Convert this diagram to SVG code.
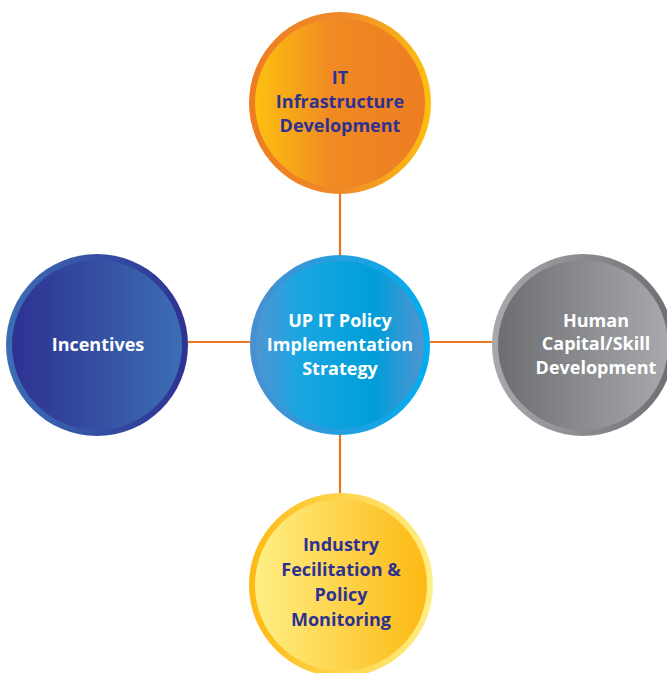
<svg xmlns="http://www.w3.org/2000/svg" width="667" height="673" viewBox="0 0 667 673">
<defs>
<linearGradient id="oF" x1="0" x2="1" y1="0" y2="0"><stop offset="0" stop-color="#FDC010"/><stop offset="0.45" stop-color="#F08A22"/><stop offset="1" stop-color="#EE7D22"/></linearGradient>
<linearGradient id="oR" x1="0" x2="1" y1="0" y2="0"><stop offset="0" stop-color="#EE7D22"/><stop offset="0.5" stop-color="#F0892A"/><stop offset="1" stop-color="#FDC010"/></linearGradient>
<linearGradient id="bF" x1="0" x2="1" y1="0" y2="0"><stop offset="0" stop-color="#4F95D2"/><stop offset="0.25" stop-color="#1BA6E2"/><stop offset="0.7" stop-color="#009ED9"/><stop offset="1" stop-color="#4F95D2"/></linearGradient>
<linearGradient id="bR" x1="0" x2="1" y1="0" y2="0"><stop offset="0" stop-color="#4A8FCF"/><stop offset="1" stop-color="#00AEEF"/></linearGradient>
<linearGradient id="nF" x1="0" x2="1" y1="0" y2="0"><stop offset="0" stop-color="#2E3192"/><stop offset="1" stop-color="#3C6EB4"/></linearGradient>
<linearGradient id="nR" x1="0" x2="1" y1="0" y2="0"><stop offset="0" stop-color="#3C6EB4"/><stop offset="1" stop-color="#2E3192"/></linearGradient>
<linearGradient id="gF" x1="0" x2="1" y1="0" y2="0"><stop offset="0" stop-color="#6D6E71"/><stop offset="1" stop-color="#A7A9AC"/></linearGradient>
<linearGradient id="gR" x1="0" x2="1" y1="0" y2="0"><stop offset="0" stop-color="#A7A9AC"/><stop offset="1" stop-color="#6D6E71"/></linearGradient>
<linearGradient id="yF" x1="0" x2="1" y1="0" y2="0"><stop offset="0" stop-color="#FFEF85"/><stop offset="1" stop-color="#FDB913"/></linearGradient>
<linearGradient id="yR" x1="0" x2="1" y1="0" y2="0"><stop offset="0" stop-color="#FDB913"/><stop offset="1" stop-color="#FFEF85"/></linearGradient>
</defs>
<style>
text{font-family:"Open Sans","Noto Sans","Liberation Sans",sans-serif;font-weight:bold;font-size:18px;text-anchor:middle}
.d{fill:#2E3192}
.w{fill:#FFFFFF}
.c{stroke:#E87722;stroke-width:2.2;fill:none}
</style>
<g id="connectors">
<line class="c" x1="340" y1="192" x2="340" y2="258"/>
<line class="c" x1="340" y1="432" x2="340" y2="495"/>
<line class="c" x1="186" y1="342" x2="250" y2="342"/>
<line class="c" x1="430" y1="342" x2="494" y2="342"/>
</g>
<g id="n-top">
<circle cx="340" cy="103" r="91" fill="url(#oR)"/>
<circle cx="340" cy="103" r="85" fill="url(#oF)"/>
<text class="d" x="340" y="84">IT</text>
<text class="d" x="340" y="108">Infrastructure</text>
<text class="d" x="340" y="132">Development</text>
</g>
<g id="n-center">
<circle cx="340" cy="345" r="90" fill="url(#bR)"/>
<circle cx="340" cy="345" r="84" fill="url(#bF)"/>
<text class="w" x="340" y="327">UP IT Policy</text>
<text class="w" x="340" y="351">Implementation</text>
<text class="w" x="340" y="375">Strategy</text>
</g>
<g id="n-left">
<circle cx="97" cy="345" r="91" fill="url(#nR)"/>
<circle cx="97" cy="345" r="85" fill="url(#nF)"/>
<text class="w" x="98" y="351">Incentives</text>
</g>
<g id="n-right">
<circle cx="583" cy="345" r="91" fill="url(#gR)"/>
<circle cx="583" cy="345" r="85" fill="url(#gF)"/>
<text class="w" x="596" y="327">Human</text>
<text class="w" x="596" y="350">Capital/Skill</text>
<text class="w" x="596" y="374">Development</text>
</g>
<g id="n-bottom">
<circle cx="341" cy="585" r="92" fill="url(#yR)"/>
<circle cx="341" cy="585" r="86" fill="url(#yF)"/>
<text class="d" x="341" y="551">Industry</text>
<text class="d" x="341" y="576">Fecilitation &amp;</text>
<text class="d" x="341" y="601">Policy</text>
<text class="d" x="341" y="626">Monitoring</text>
</g>
</svg>
